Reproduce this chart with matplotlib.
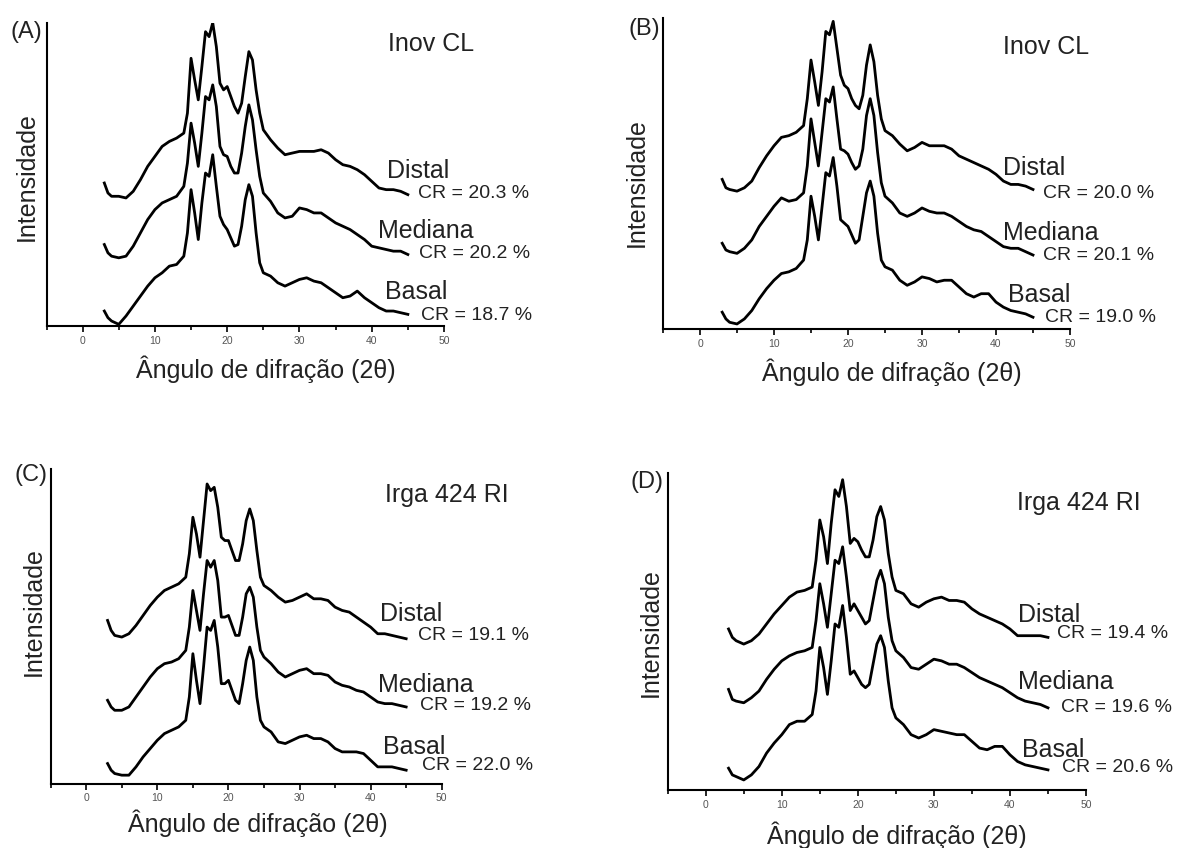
import matplotlib
matplotlib.use("Agg")
import matplotlib.pyplot as plt
from matplotlib.ticker import MultipleLocator

plt.rcParams['font.family'] = ['Liberation Sans', 'DejaVu Sans']

W, H = 1180, 848

# 2-theta grid (degrees) shared by all diffractograms
two_theta = [3, 3.5, 4, 5, 6, 7, 8, 9, 10, 11, 12, 13, 14, 14.5, 15, 15.5, 16, 16.5,
             17, 17.5, 18, 18.5, 19, 19.5, 20, 20.5, 21, 21.5, 22, 22.5, 23, 23.5, 24,
             24.5, 25, 26, 27, 28, 29, 30, 31, 32, 33, 34, 35, 36, 37, 38, 39, 40, 41,
             42, 43, 44, 45]

# (A) Inov CL - stacked intensities (a.u.)
a_distal = [430, 400, 390, 390, 385, 405, 440, 480, 510, 540, 555, 565, 580, 640, 805,
            740, 680, 780, 885, 870, 912, 840, 730, 710, 720, 690, 660, 640, 670, 750,
            825, 800, 710, 640, 590, 560, 535, 515, 520, 525, 525, 525, 530, 520, 500,
            485, 480, 470, 455, 435, 415, 410, 410, 405, 395]
a_mediana = [245, 220, 210, 205, 210, 240, 280, 320, 350, 370, 380, 390, 420, 490, 610,
             550, 480, 580, 690, 680, 725, 660, 540, 515, 510, 480, 460, 460, 520, 600,
             665, 620, 530, 450, 400, 375, 340, 325, 330, 355, 350, 340, 340, 325, 310,
             300, 290, 275, 260, 240, 235, 230, 225, 225, 215]
a_basal = [45, 25, 15, 5, 30, 60, 90, 120, 145, 160, 180, 185, 210, 280, 410, 340, 260,
           370, 460, 450, 515, 420, 330, 305, 290, 265, 240, 245, 300, 380, 425, 390, 280,
           190, 160, 150, 130, 120, 130, 140, 145, 135, 130, 115, 100, 85, 90, 105, 85, 70,
           55, 45, 45, 40, 35]

# (B) Inov CL
b_distal = [445, 420, 415, 410, 420, 440, 480, 515, 545, 570, 575, 585, 605, 685, 800,
            735, 665, 765, 885, 875, 915, 835, 755, 725, 715, 685, 665, 655, 695, 785,
            845, 795, 695, 625, 590, 575, 550, 530, 540, 555, 545, 545, 545, 535, 515,
            505, 495, 485, 475, 460, 440, 430, 430, 425, 415]
b_mediana = [255, 235, 230, 225, 240, 265, 305, 335, 365, 390, 380, 385, 405, 485, 625,
             555, 485, 585, 685, 675, 720, 625, 535, 530, 520, 495, 475, 485, 535, 635,
             685, 635, 525, 435, 395, 375, 345, 335, 345, 360, 350, 345, 345, 335, 320,
             305, 295, 290, 275, 260, 245, 240, 240, 230, 220]
b_basal = [50, 30, 20, 15, 30, 55, 90, 120, 145, 165, 170, 180, 205, 265, 395, 335, 265,
           365, 465, 455, 510, 425, 325, 315, 305, 280, 255, 265, 335, 405, 440, 395, 285,
           205, 185, 175, 145, 130, 140, 155, 150, 140, 145, 145, 125, 105, 95, 105, 105,
           80, 65, 55, 50, 45, 35]

# (C) Irga 424 RI
c_distal = [490, 460, 445, 440, 450, 475, 505, 535, 560, 580, 590, 600, 620, 690, 800,
            750, 680, 790, 900, 880, 890, 830, 740, 730, 730, 700, 670, 670, 720, 790,
            825, 790, 700, 620, 595, 580, 560, 545, 550, 560, 570, 555, 555, 550, 530,
            520, 515, 500, 485, 470, 450, 450, 445, 440, 435]
c_mediana = [250, 230, 220, 220, 230, 260, 290, 320, 345, 360, 365, 375, 400, 470, 580,
             520, 460, 570, 670, 650, 670, 610, 500, 500, 505, 475, 445, 445, 500, 570,
             590, 560, 470, 400, 380, 360, 335, 320, 330, 340, 345, 330, 330, 325, 305,
             295, 290, 280, 275, 260, 245, 240, 240, 235, 230]
c_basal = [60, 40, 30, 25, 25, 50, 80, 105, 130, 150, 160, 170, 190, 260, 390, 310, 240,
           350, 470, 460, 490, 410, 300, 300, 310, 280, 250, 240, 300, 370, 410, 370, 260,
           190, 170, 155, 125, 120, 130, 140, 145, 135, 135, 125, 105, 95, 95, 95, 90, 70,
           50, 50, 50, 45, 40]

# (D) Irga 424 RI
d_distal = [480, 455, 445, 435, 445, 465, 495, 525, 550, 575, 590, 595, 605, 685, 805,
            755, 675, 795, 895, 875, 925, 845, 735, 750, 740, 715, 695, 695, 745, 815,
            845, 805, 705, 635, 595, 585, 555, 545, 560, 570, 575, 565, 565, 560, 540,
            525, 515, 505, 495, 480, 460, 460, 460, 460, 455]
d_mediana = [300, 270, 265, 260, 275, 295, 330, 360, 385, 400, 410, 415, 425, 505, 615,
             555, 485, 585, 685, 675, 725, 635, 535, 555, 535, 515, 495, 505, 565, 625,
             655, 615, 515, 445, 415, 395, 365, 360, 375, 390, 385, 375, 375, 365, 350,
             335, 325, 315, 305, 290, 275, 265, 260, 255, 245]
d_basal = [65, 45, 40, 30, 45, 70, 110, 140, 165, 195, 205, 205, 225, 295, 425, 365, 285,
           385, 495, 485, 550, 455, 345, 355, 335, 315, 305, 315, 375, 435, 460, 425, 325,
           245, 215, 195, 165, 155, 165, 180, 175, 170, 165, 165, 145, 125, 120, 130, 130,
           105, 85, 75, 70, 65, 60]

panel_tags = ['(A)', '(B)', '(C)', '(D)']
cultivars = ['Inov CL', 'Inov CL', 'Irga 424 RI', 'Irga 424 RI']
sections = ['Distal', 'Mediana', 'Basal']
cr_values = [[20.3, 20.2, 18.7], [20.0, 20.1, 19.0], [19.1, 19.2, 22.0], [19.4, 19.6, 20.6]]
curves = [[a_distal, a_mediana, a_basal], [b_distal, b_mediana, b_basal],
          [c_distal, c_mediana, c_basal], [d_distal, d_mediana, d_basal]]
y_max = [912, 925, 945, 945]

# axes boxes in pixels: left, right (x = 50), top, bottom
boxes = [(46.5, 444, 22.7, 326), (663, 1070, 18, 329),
         (50.7, 441.7, 469, 783.5), (667.7, 1086, 473, 790)]

# text anchors in pixels (left x, center y)
tag_pos = [(10, 32), (628, 29), (15, 475), (630, 482)]
name_pos = [(388, 44), (1003, 47), (385, 495), (1017, 503)]
section_pos = [[(387, 171), (378, 231), (385, 292)],
               [(1003, 168), (1003, 233), (1008, 295)],
               [(380, 614), (378, 685), (383, 747)],
               [(1018, 615), (1018, 682), (1022, 750)]]
cr_pos = [[(418, 193), (419, 253), (421, 315)],
          [(1043, 193), (1043, 255), (1045, 317)],
          [(418, 635), (420, 705), (422, 765)],
          [(1057, 633), (1061, 707), (1062, 768)]]
ylabel_pos = [(27, 177), (637, 183), (34, 612), (651, 633)]
xlabel_pos = [(266, 369), (892, 372), (258, 823), (897, 835)]


def fx(px):
    return px / W


def fy(py):
    return 1 - py / H


fig = plt.figure(figsize=(W / 100, H / 100), dpi=100)

for i in range(4):
    left, right, top, bottom = boxes[i]
    ax = fig.add_axes([fx(left), fy(bottom), (right - left) / W, (bottom - top) / H])
    for ys in curves[i]:
        ax.plot(two_theta, ys, color='black', lw=2.0, solid_joinstyle='round')
    ax.set_xlim(-5, 50)
    ax.set_ylim(0, y_max[i])
    for side in ['top', 'right']:
        ax.spines[side].set_visible(False)
    for side in ['left', 'bottom']:
        ax.spines[side].set_linewidth(1.5)
    ax.set_yticks([])
    ax.xaxis.set_major_locator(MultipleLocator(10))
    ax.xaxis.set_minor_locator(MultipleLocator(5))
    ax.tick_params(axis='x', which='major', length=4, width=1.2, labelsize=7.5,
                   labelcolor='#555555', pad=3)
    ax.tick_params(axis='x', which='minor', length=3, width=1.2)

    fig.text(fx(tag_pos[i][0]), fy(tag_pos[i][1]), panel_tags[i], fontsize=17,
             va='center', ha='left', color='#222222')
    fig.text(fx(name_pos[i][0]), fy(name_pos[i][1]), cultivars[i], fontsize=18,
             va='center', ha='left', color='#222222')
    for j in range(3):
        sx, sy = section_pos[i][j]
        fig.text(fx(sx), fy(sy), sections[j], fontsize=18, va='center', ha='left',
                 color='#222222')
        cx, cy = cr_pos[i][j]
        fig.text(fx(cx), fy(cy), f'CR = {cr_values[i][j]:.1f} %', fontsize=14,
                 va='center', ha='left', color='#222222')
    fig.text(fx(ylabel_pos[i][0]), fy(ylabel_pos[i][1]), 'Intensidade', fontsize=18,
             rotation=90, va='center', ha='center', color='#222222')
    fig.text(fx(xlabel_pos[i][0]), fy(xlabel_pos[i][1]), 'Ângulo de difração (2θ)',
             fontsize=18, va='center', ha='center', color='#222222')

fig.savefig('out.png', dpi=100)
